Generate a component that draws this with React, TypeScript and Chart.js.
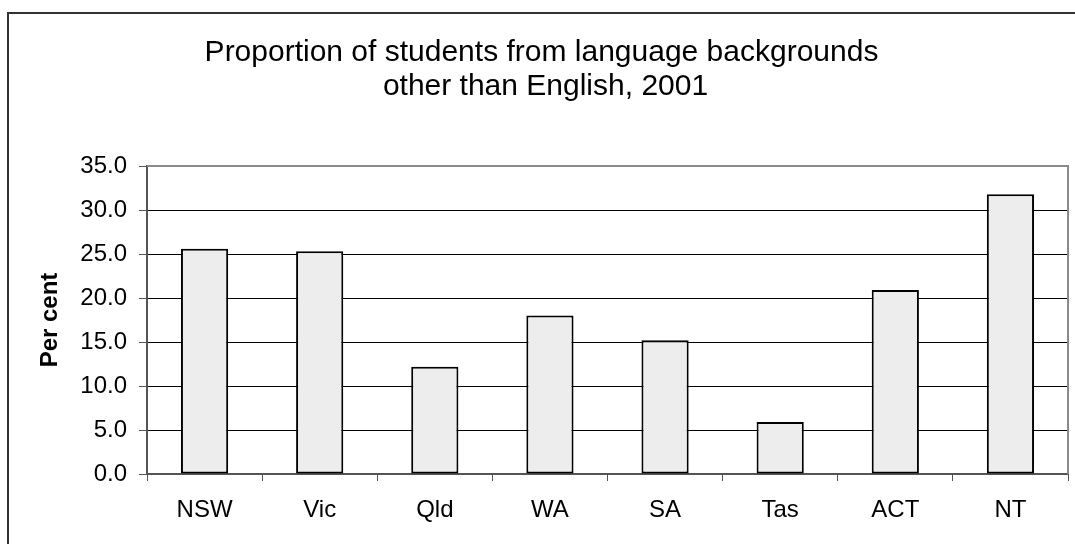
import React, { useEffect, useRef } from 'react';
import { Chart, registerables } from 'chart.js';

Chart.register(...registerables);

// Share of students from language backgrounds other than English, by state/territory
const states = ['NSW', 'Vic', 'Qld', 'WA', 'SA', 'Tas', 'ACT', 'NT'];
const lbotePercent = [25.6, 25.3, 12.2, 18.0, 15.2, 5.9, 20.9, 31.8];
const titleLines = ['Proportion of students from language backgrounds', 'other than English, 2001'];
const yAxisTitle = 'Per cent';
const yMin = 0;
const yMax = 35;
const yStep = 5;

const FONT = "'Liberation Sans', Arial, Helvetica, sans-serif";

// Two-line centred chart heading
const headingPlugin = {
  id: 'twoLineHeading',
  afterDraw(chart: any) {
    const { ctx } = chart;
    ctx.save();
    ctx.font = `30px ${FONT}`;
    ctx.fillStyle = '#000';
    ctx.textAlign = 'center';
    ctx.textBaseline = 'alphabetic';
    ctx.fillText(titleLines[0], 533.5, 53);
    ctx.fillText(titleLines[1], 537.5, 86.5);
    ctx.restore();
  },
};

// Grey top and right edges of the plot area
const plotEdgePlugin = {
  id: 'plotEdges',
  beforeDatasetsDraw(chart: any) {
    const { ctx, chartArea } = chart;
    const { left, right, top, bottom } = chartArea;
    ctx.save();
    ctx.strokeStyle = '#8a8a8a';
    ctx.lineWidth = 2;
    ctx.beginPath();
    ctx.moveTo(left, top);
    ctx.lineTo(right, top);
    ctx.lineTo(right, bottom);
    ctx.stroke();
    ctx.restore();
  },
};

export default function App() {
  const canvasRef = useRef<HTMLCanvasElement | null>(null);

  useEffect(() => {
    const canvas = canvasRef.current;
    if (!canvas) return;
    const chart = new Chart(canvas, {
      type: 'bar',
      data: {
        labels: states,
        datasets: [
          {
            data: lbotePercent,
            backgroundColor: '#ededed',
            borderColor: '#000',
            borderWidth: 2,
            borderSkipped: false,
            barPercentage: 0.41,
            categoryPercentage: 1,
          },
        ],
      },
      options: {
        responsive: false,
        animation: false,
        devicePixelRatio: 1,
        layout: { padding: { top: 158, right: 7, bottom: 0, left: 0 } },
        plugins: {
          legend: { display: false },
          tooltip: { enabled: false },
          title: { display: false },
        },
        scales: {
          x: {
            offset: true,
            ticks: {
              font: { size: 24, family: FONT },
              color: '#000',
              padding: 15,
              maxRotation: 0,
              autoSkip: false,
            },
            grid: {
              offset: true,
              drawOnChartArea: false,
              drawTicks: true,
              tickLength: 7,
              tickColor: '#555',
              color: '#555',
              lineWidth: 1,
            },
            border: { color: '#555', width: 2 },
            afterFit: (scale: any) => {
              scale.height = 70;
            },
          },
          y: {
            min: yMin,
            max: yMax,
            ticks: {
              stepSize: yStep,
              callback: (v: any) => Number(v).toFixed(1),
              font: { size: 24, family: FONT },
              color: '#000',
              padding: 12,
            },
            grid: {
              color: (ctx: any) => (ctx.tick && ctx.tick.value === yMax ? 'rgba(0,0,0,0)' : '#000'),
              lineWidth: 1,
              drawTicks: true,
              tickLength: 8,
              tickColor: '#555',
            },
            border: { color: '#555', width: 2 },
            title: {
              display: true,
              text: yAxisTitle,
              font: { size: 24, weight: 'bold', family: FONT },
              color: '#000',
              padding: { top: 28, bottom: 0 },
            },
            afterFit: (scale: any) => {
              scale.width = 139;
            },
          },
        },
      },
      plugins: [plotEdgePlugin, headingPlugin],
    });
    return () => chart.destroy();
  }, []);

  return (
    <div
      style={{
        position: 'fixed',
        left: 7,
        top: 8,
        width: 1068,
        height: 536,
        overflow: 'hidden',
        background: '#fff',
      }}
    >
      <div
        style={{
          position: 'absolute',
          left: 0,
          top: 4,
          width: 1200,
          height: 700,
          border: '2px solid #333',
          boxSizing: 'border-box',
        }}
      />
      <canvas
        ref={canvasRef}
        width={1067}
        height={536}
        style={{ position: 'absolute', left: 1, top: 0, width: 1067, height: 536 }}
      />
    </div>
  );
}
